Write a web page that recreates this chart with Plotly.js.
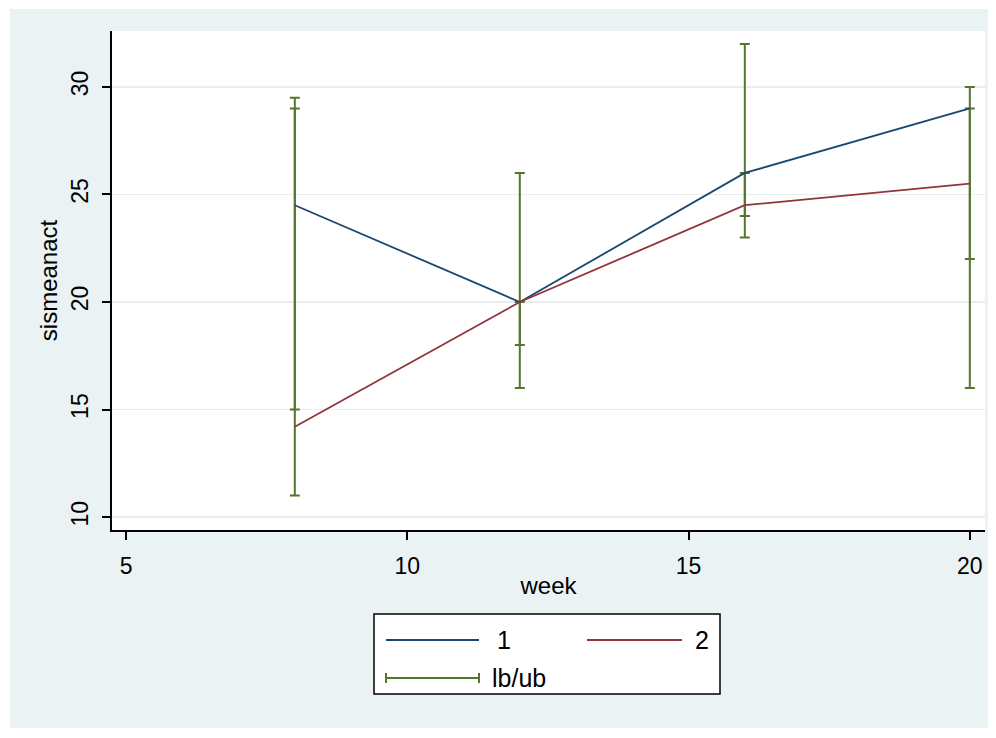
<!DOCTYPE html>
<html>
<head>
<meta charset="utf-8">
<script src="https://cdn.plot.ly/plotly-3.0.1.min.js"></script>
<style>
  html, body { margin: 0; padding: 0; background: #ffffff; }
  #wrap { position: relative; width: 996px; height: 738px; }
  #bg { position: absolute; left: 10px; top: 9px; width: 978px; height: 719px; background: #eaf2f3; }
  #chart { position: absolute; left: 0; top: 0; width: 996px; height: 738px; }
</style>
</head>
<body>
<div id="wrap"><div id="bg"></div><div id="chart"></div></div>
<script>
// ---- data ----
const week = [8, 12, 16, 20];
const group1 = [24.5, 20, 26, 29];
const group2 = [14.2, 20, 24.5, 25.5];
const lb1 = [15, 18, 24, 22];
const ub1 = [29.5, 26, 32, 30];
const lb2 = [11, 16, 23, 16];
const ub2 = [29, 20, 26, 29];
const xTicks = [5, 10, 15, 20];
const yTicks = [10, 15, 20, 25, 30];
const seriesNames = ['1', '2', 'lb/ub'];

// ---- style ----
const BLUE = '#1a476f', RED = '#90353b', GREEN = '#55752f';
const FONT = 'Liberation Sans, Arial, sans-serif';

function rangeTrace(lb, ub) {
  const mid = lb.map((v, i) => (v + ub[i]) / 2);
  const half = lb.map((v, i) => (ub[i] - v) / 2);
  return {
    x: week, y: mid, type: 'scatter', mode: 'markers',
    marker: {size: 0.1, color: 'rgba(0,0,0,0)'},
    error_y: {type: 'data', array: half, symmetric: true, color: GREEN, thickness: 2, width: 5},
    showlegend: false, hoverinfo: 'skip'
  };
}

const traces = [
  rangeTrace(lb1, ub1),
  rangeTrace(lb2, ub2),
  {x: week, y: group1, type: 'scatter', mode: 'lines', line: {color: BLUE, width: 1.8}, name: seriesNames[0], showlegend: false},
  {x: week, y: group2, type: 'scatter', mode: 'lines', line: {color: RED, width: 1.8}, name: seriesNames[1], showlegend: false}
];

// plot area in pixels
const L = 112, R = 985, T = 31, B = 530, W = 996, H = 738;
const px = x => (x - L) / (R - L);
const py = y => (B - y) / (B - T);

const shapes = [
  // legend box
  {type: 'rect', xref: 'paper', yref: 'paper', x0: px(374), x1: px(720), y0: py(614), y1: py(694),
   fillcolor: '#ffffff', line: {color: '#000000', width: 1.5}},
  {type: 'line', xref: 'paper', yref: 'paper', x0: px(386), x1: px(479), y0: py(640), y1: py(640), line: {color: BLUE, width: 1.8}},
  {type: 'line', xref: 'paper', yref: 'paper', x0: px(587), x1: px(682), y0: py(640), y1: py(640), line: {color: RED, width: 1.8}},
  {type: 'line', xref: 'paper', yref: 'paper', x0: px(386), x1: px(479), y0: py(678), y1: py(678), line: {color: GREEN, width: 2}},
  {type: 'line', xref: 'paper', yref: 'paper', x0: px(386), x1: px(386), y0: py(673), y1: py(683), line: {color: GREEN, width: 2}},
  {type: 'line', xref: 'paper', yref: 'paper', x0: px(479), x1: px(479), y0: py(673), y1: py(683), line: {color: GREEN, width: 2}}
];

const annotations = [
  {xref: 'paper', yref: 'paper', x: px(495), y: py(640), text: seriesNames[0], showarrow: false, xanchor: 'left', yanchor: 'middle', font: {family: FONT, size: 25, color: '#000'}},
  {xref: 'paper', yref: 'paper', x: px(693), y: py(640), text: seriesNames[1], showarrow: false, xanchor: 'left', yanchor: 'middle', font: {family: FONT, size: 25, color: '#000'}},
  {xref: 'paper', yref: 'paper', x: px(490), y: py(678), text: seriesNames[2], showarrow: false, xanchor: 'left', yanchor: 'middle', font: {family: FONT, size: 25, color: '#000'}}
];

const layout = {
  width: W, height: H,
  paper_bgcolor: 'rgba(0,0,0,0)', plot_bgcolor: '#ffffff',
  margin: {l: L, r: W - R, t: T, b: H - B, pad: 0},
  showlegend: false,
  font: {family: FONT, color: '#000'},
  xaxis: {
    range: [4.75, 20.27], tickvals: xTicks, ticktext: xTicks.map(String),
    showline: true, linecolor: '#000', linewidth: 2, mirror: false,
    ticks: 'outside', ticklen: 8, tickwidth: 2, tickcolor: '#000',
    ticklabelstandoff: 6,
    showgrid: false, zeroline: false,
    tickfont: {family: FONT, size: 23, color: '#000'},
    title: {text: 'week', font: {family: FONT, size: 24, color: '#000'}, standoff: 0},
    automargin: false
  },
  yaxis: {
    range: [9.4, 32.6], tickvals: yTicks, ticktext: yTicks.map(String),
    showline: true, linecolor: '#000', linewidth: 2, mirror: false,
    ticks: 'outside', ticklen: 8, tickwidth: 2, tickcolor: '#000',
    ticklabelstandoff: 5,
    showgrid: true, gridcolor: '#e9eded', gridwidth: 1.5, zeroline: false,
    tickangle: -90,
    tickfont: {family: FONT, size: 23, color: '#000'},
    title: {text: 'sismeanact', font: {family: FONT, size: 24, color: '#000'}, standoff: 2},
    automargin: false
  },
  shapes: shapes,
  annotations: annotations
};

Plotly.newPlot('chart', traces, layout, {displayModeBar: false, staticPlot: true});
</script>
</body>
</html>
